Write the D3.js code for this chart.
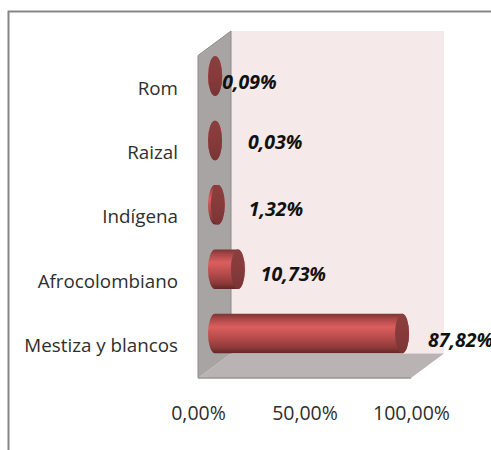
<!DOCTYPE html>
<html><head><meta charset="utf-8">
<script src="https://cdn.jsdelivr.net/npm/d3@7/dist/d3.min.js"></script>
<style>html,body{margin:0;padding:0;background:#fff;overflow:hidden}svg{display:block}</style>
</head><body><div id="c"></div>
<script>
const categories = ["Rom","Raizal","Indígena","Afrocolombiano","Mestiza y blancos"];
const values = [0.09,0.03,1.32,10.73,87.82];
const valueLabels = ["0,09%","0,03%","1,32%","10,73%","87,82%"];
const tickValues = [0,50,100];

const W=491,H=450;
const svg=d3.select("#c").append("svg").attr("width",W).attr("height",H);
const FONT="'Open Sans','Noto Sans',sans-serif";
const x=d3.scaleLinear().domain([0,100]).range([198,411]);
const y=d3.scaleBand().domain(categories).range([43.8,365.8]).paddingInner(.386).paddingOuter(.193);
const depthX=33, depthY=24.5, barDX=17, rx=7;
const wallTop=55.5, floorY=378;

const defs=svg.append("defs");
const g=defs.append("linearGradient").attr("id","cyl").attr("x1",0).attr("x2",0).attr("y1",0).attr("y2",1);
[[0,"#7c3434"],[.12,"#a84646"],[.33,"#dc5e5e"],[.6,"#b84c4c"],[.85,"#8e3a3a"],[1,"#5f2727"]]
  .forEach(s=>g.append("stop").attr("offset",s[0]).attr("stop-color",s[1]));
const e=defs.append("linearGradient").attr("id","cap").attr("x1",0).attr("x2",0).attr("y1",0).attr("y2",1);
[[0,"#8c3e3e"],[.5,"#863b3b"],[1,"#7a3434"]]
  .forEach(s=>e.append("stop").attr("offset",s[0]).attr("stop-color",s[1]));

// frame (open at the bottom and right, as in the cropped source)
svg.append("path").attr("d",`M8.5,450V11.5H491`).attr("fill","none").attr("stroke","#858585").attr("stroke-width",2);

const x0=x(0),x1=x(100);
// back wall
svg.append("rect").attr("x",x0+depthX).attr("y",wallTop-depthY).attr("width",x1-x0).attr("height",floorY-wallTop)
  .attr("fill","#f5e9e9");
// floor
svg.append("path").attr("d",`M${x0},${floorY}L${x0+depthX},${floorY-depthY}H${x1+depthX}L${x1},${floorY}Z`).attr("fill","#bab3b3");
// side wall
svg.append("path").attr("d",`M${x0},${wallTop}L${x0+depthX},${wallTop-depthY}V${floorY-depthY}L${x0},${floorY}Z`).attr("fill","#a8a4a4");
// wall / floor edges
svg.append("path").attr("d",`M${x0},${floorY}V${wallTop}L${x0+depthX},${wallTop-depthY}V${floorY-depthY}`).attr("fill","none").attr("stroke","#8f8b8b").attr("stroke-width",1);
svg.append("path").attr("d",`M${x0},${floorY}H${x1}`).attr("fill","none").attr("stroke","#9a9696").attr("stroke-width",1.5);

// cylinders
const rows=categories.map((c,i)=>({c,v:values[i],l:valueLabels[i],i}));
const bars=svg.append("g").selectAll("g").data(rows).join("g");
bars.append("path").attr("fill","url(#cyl)").attr("d",d=>{
  const b=y.bandwidth()/2,cy=y(d.c)+b,a=x(0)+barDX,z=x(d.v)+barDX;
  return `M${a},${cy-b}H${z}A${rx},${b} 0 0 1 ${z},${cy+b}H${a}A${rx},${b} 0 0 1 ${a},${cy-b}Z`;
});
bars.append("ellipse").attr("fill","url(#cap)")
  .attr("cx",d=>x(d.v)+barDX).attr("cy",d=>y(d.c)+y.bandwidth()/2)
  .attr("rx",rx).attr("ry",y.bandwidth()/2);

// category labels
svg.append("g").selectAll("text").data(categories).join("text")
  .attr("x",178).attr("y",c=>y(c)+y.bandwidth()/2+18.5)
  .attr("text-anchor","end").attr("font-family",FONT).attr("font-size",18.8).attr("fill","#2e2e2e").text(c=>c);

// value labels: hand-placed in the source chart
const labelNudgeX=[0,26,24,16,19], labelNudgeY=[12.5,8.5,11.5,11.5,13];
svg.append("g").selectAll("text").data(rows).join("text")
  .attr("x",d=>x(d.v)+barDX+rx+labelNudgeX[d.i]).attr("y",d=>y(d.c)+y.bandwidth()/2+labelNudgeY[d.i])
  .attr("font-family",FONT).attr("font-size",19.5).attr("font-weight",700).attr("font-style","italic").attr("fill","#111").text(d=>d.l);

// value axis
const ax=svg.append("g").attr("transform",`translate(0,${floorY+25})`)
  .call(d3.axisBottom(x).tickValues(tickValues).tickSize(0).tickFormat(v=>d3.format(".2f")(v).replace(".",",")+"%"));
ax.select(".domain").remove();
ax.selectAll("text").attr("font-family",FONT).attr("font-size",19.5).attr("fill","#2e2e2e");
</script></body></html>
